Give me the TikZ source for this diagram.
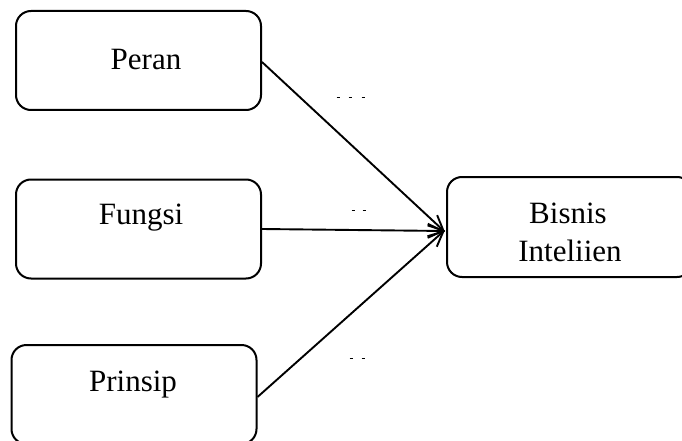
\documentclass[tikz,border=0pt]{standalone}
\usepackage{fontspec}
\setmainfont{Liberation Serif}
\usetikzlibrary{arrows.meta}
\begin{document}
\begin{tikzpicture}[x=1pt,y=-1pt,
  boxst/.style={draw,line width=2pt,rounded corners=15pt,minimum width=245pt,minimum height=99pt,inner sep=0pt},
  lbl/.style={anchor=base,inner sep=0pt,font=\fontsize{31}{39}\selectfont},
  conn/.style={line width=1.9pt,-{Straight Barb[length=15pt,width=14pt]}},
  tick/.style={line width=1pt}]
\useasboundingbox (0,0) rectangle (682,441);
\node[boxst] (peran) at (138.5,60.5) {};
\node[boxst] (fungsi) at (138.5,229) {};
\node[boxst] (prinsip) at (134,394.5) {};
\node[boxst,minimum height=100pt] (bisnis) at (569.5,227) {};
\node[lbl] (tperan) at (146,70) {Peran};
\node[lbl] (tfungsi) at (141,224) {Fungsi};
\node[lbl] (tprinsip) at (133,391) {Prinsip};
\node[lbl] (tbisnis1) at (568,223) {Bisnis};
\node[lbl] (tbisnis2) at (570,261) {Inteliien};
\coordinate (tip) at (445,232);
\coordinate (p1) at ([yshift=-1.5pt]peran.east);
\coordinate (p3) at ([yshift=-2.5pt]prinsip.east);
\draw[conn] (p1) -- (tip);
\draw[conn] (fungsi.east) -- ([yshift=1pt]tip);
\draw[conn] (p3) -- ([yshift=2pt]tip);
\foreach \x/\y in {338/98,350/98,363/98,353/210,364/210,351/358,363/358}
  \draw[tick] (\x-1.5,\y) -- (\x+1.5,\y);
\end{tikzpicture}
\end{document}
